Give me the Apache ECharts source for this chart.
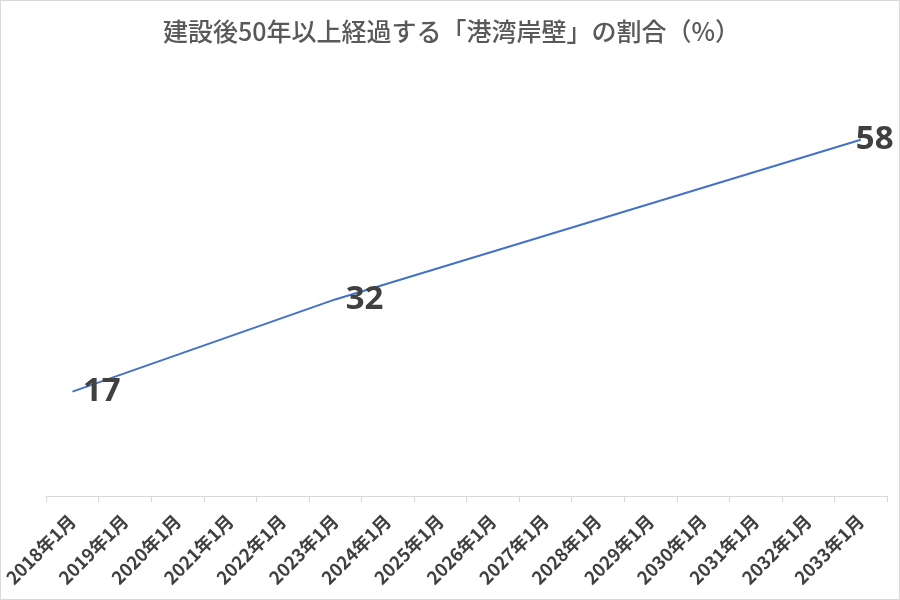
<!DOCTYPE html>
<html><head><meta charset="utf-8">
<script src="https://cdn.jsdelivr.net/npm/echarts@6/dist/echarts.min.js"></script>
<style>
html,body{margin:0;padding:0;background:#fff;}
#c{width:900px;height:600px;box-sizing:border-box;border:1px solid #d9d9d9;}
</style></head>
<body><div id="c"></div>
<script>
const titleText = '建設後50年以上経過する「港湾岸壁」の割合（%）';
const categories = ['2018年1月','2019年1月','2020年1月','2021年1月','2022年1月','2023年1月','2024年1月','2025年1月','2026年1月','2027年1月','2028年1月','2029年1月','2030年1月','2031年1月','2032年1月','2033年1月'];
const shares = [17, null, null, null, null, 32, null, null, null, null, null, null, null, null, null, 58];

const chart = echarts.init(document.getElementById('c'), null, {renderer:'canvas'});
const lastIdx = shares.length - 1;
const seriesData = shares.map((v, i) => i === lastIdx
  ? {value: v, label: {position: 'inside', offset: [14, 0]}}
  : v);
chart.setOption({
  animation: false,
  title: {
    text: titleText, left: 157, top: 13,
    textStyle: {fontFamily: '"Noto Sans CJK JP"', fontSize: 25, fontWeight: 500, color: '#595959'}
  },
  grid: {left: 44, right: 12, top: 65, bottom: 103, containLabel: false},
  xAxis: {
    type: 'category', data: categories, boundaryGap: true,
    axisLine: {lineStyle: {color: '#d9d9d9', width: 1}},
    axisTick: {show: true, interval: 0, length: 6, lineStyle: {color: '#d9d9d9'}},
    axisLabel: {interval: 0, rotate: 45, fontSize: 18, fontWeight: 'bold', color: '#404040',
      fontFamily: '"Noto Sans CJK JP"', margin: 22},
    splitLine: {show: false}
  },
  yAxis: {type: 'value', min: 0, max: 70, show: false, splitLine: {show: false}},
  series: [{
    type: 'line', data: seriesData, connectNulls: true,
    symbol: 'circle', symbolSize: 1, showSymbol: true,
    itemStyle: {color: 'rgba(68,114,196,0)'},
    lineStyle: {color: '#4472C4', width: 2},
    label: {show: true, position: 'right', distance: 10, fontSize: 33, fontWeight: 'bold',
      color: '#404040', fontFamily: '"Open Sans", "Liberation Sans", sans-serif'}
  }]
});
</script></body></html>
